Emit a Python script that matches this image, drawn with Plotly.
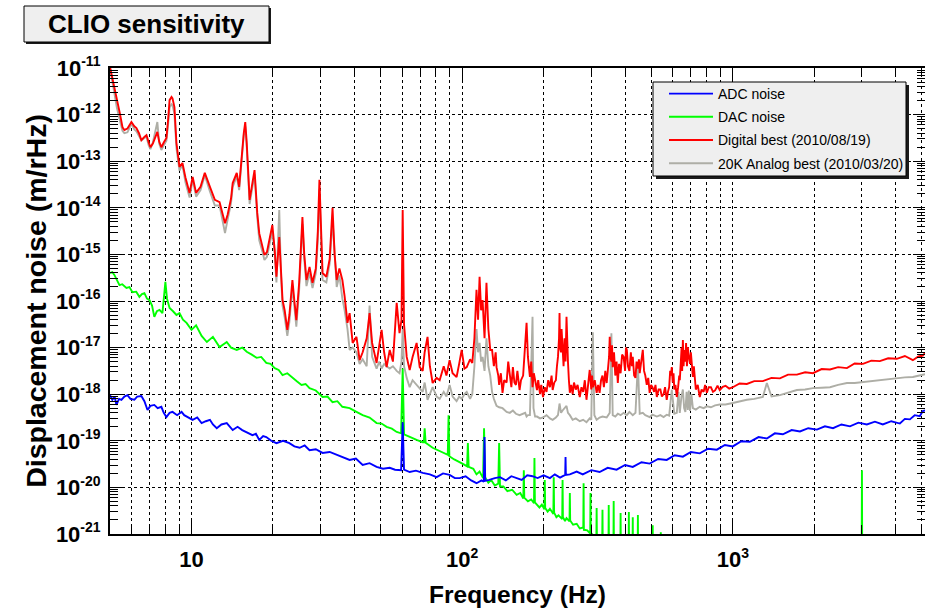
import math
import plotly.graph_objects as go

# ---------------- data (frequency in Hz, log10 of displacement noise in m/rHz) ----------------
adc_points = [
    (5.0, -18.02), (5.1, -18.12), (5.2, -18.05), (5.28, -18.23), (5.4, -18.10), (5.51, -18.12),
    (5.65, -18.05), (5.80, -18.02), (5.95, -18.10), (6.15, -18.12), (6.3, -18.05), (6.53, -18.04),
    (6.7, -18.15), (6.88, -18.34), (7.05, -18.25), (7.29, -18.23), (7.5, -18.30), (7.74, -18.27),
    (7.9, -18.40), (8.08, -18.49), (8.3, -18.40), (8.51, -18.38), (8.85, -18.45), (9.19, -18.38),
    (9.4, -18.45), (9.67, -18.49), (10.1, -18.55), (10.5, -18.50), (10.9, -18.62), (11.3, -18.58),
    (11.7, -18.55), (12.0, -18.65), (12.4, -18.73), (12.9, -18.65), (13.5, -18.62), (14.2, -18.77),
    (14.8, -18.70), (15.4, -18.77), (16.1, -18.82), (16.8, -18.88), (17.3, -18.85), (17.8, -18.98),
    (18.4, -18.90), (18.9, -18.92), (19.7, -19.00), (20.6, -19.05), (21.8, -19.00), (23.0, -19.05),
    (24.0, -19.12), (25.1, -19.15), (26.2, -19.10), (27.3, -19.20), (28.8, -19.18), (30.5, -19.26),
    (32.4, -19.24), (34.4, -19.30), (36.3, -19.35), (38.4, -19.41), (40.5, -19.38), (42.9, -19.52),
    (45.5, -19.48), (48.3, -19.56), (51.0, -19.60), (54.0, -19.58), (56.5, -19.62), (59.5, -19.63),
    (60.3, -18.60), (61.0, -19.62), (64.0, -19.67), (67.5, -19.64), (71.5, -19.69), (76.0, -19.72),
    (80.5, -19.78), (85.0, -19.70), (89.9, -19.73), (94.0, -19.80), (97.9, -19.80), (103, -19.76),
    (108, -19.85), (113, -19.91), (118, -19.85), (120.3, -19.88), (121, -18.92), (121.7, -19.86),
    (126, -19.84), (132, -19.80), (138, -19.78), (145, -19.85), (152, -19.76), (159, -19.80),
    (166, -19.84), (174, -19.74), (182, -19.76), (190, -19.80), (200, -19.74), (211, -19.80),
    (220, -19.72), (230, -19.79), (240.3, -19.73), (241, -19.35), (241.7, -19.73), (250, -19.72),
    (265, -19.66), (279, -19.72), (300, -19.63), (322, -19.67), (345, -19.58), (372, -19.62),
    (400, -19.52), (427, -19.56), (460, -19.46), (493, -19.49), (530, -19.39), (570, -19.41),
    (610, -19.31), (654, -19.34), (700, -19.24), (755, -19.27), (810, -19.17), (873, -19.19),
    (935, -19.09), (1000, -19.12), (1075, -19.01), (1156, -19.02), (1245, -18.92), (1336, -18.95),
    (1430, -18.84), (1531, -18.86), (1650, -18.77), (1771, -18.80), (1900, -18.73), (2045, -18.76),
    (2190, -18.69), (2345, -18.73), (2520, -18.65), (2710, -18.69), (2910, -18.61), (3128, -18.65),
    (3350, -18.59), (3583, -18.65), (3850, -18.58), (4143, -18.63), (4323, -18.53), (4510, -18.54),
    (4700, -18.45), (4909, -18.47), (5036, -18.36), (5130, -18.35),
]

dac_points = [
    (5.0, -15.40), (5.1, -15.38), (5.19, -15.44), (5.3, -15.55), (5.42, -15.66), (5.55, -15.64),
    (5.75, -15.72), (5.9, -15.70), (6.05, -15.81), (6.25, -15.80), (6.42, -15.91), (6.56, -15.85),
    (6.70, -15.83), (6.85, -15.95), (7.0, -15.98), (7.15, -16.10), (7.29, -16.34), (7.45, -16.22),
    (7.62, -16.19), (7.81, -16.26), (7.92, -15.90), (8.01, -15.59), (8.12, -15.95), (8.30, -16.15),
    (8.55, -16.22), (8.80, -16.30), (9.03, -16.26), (9.3, -16.40), (9.59, -16.47), (10.0, -16.62),
    (10.4, -16.52), (10.9, -16.75), (11.4, -16.88), (12.0, -16.77), (12.7, -16.99), (13.5, -16.88),
    (14.0, -17.00), (14.7, -17.05), (15.4, -17.00), (16.0, -17.09), (16.7, -17.15), (17.4, -17.22),
    (18.1, -17.20), (18.9, -17.33), (19.6, -17.35), (20.3, -17.44), (21.0, -17.48), (21.7, -17.59),
    (22.6, -17.55), (23.6, -17.65), (24.5, -17.72), (25.5, -17.80), (26.4, -17.78), (27.3, -17.87),
    (28.8, -17.92), (30.5, -18.06), (31.8, -18.05), (33.2, -18.17), (34.6, -18.15), (36.1, -18.27),
    (38.4, -18.30), (40.7, -18.38), (42.9, -18.45), (45.5, -18.50), (48.3, -18.62), (50.4, -18.63),
    (52.6, -18.70), (55.0, -18.74), (57.3, -18.81), (59.5, -18.84), (60.3, -17.45), (61.0, -18.86),
    (64.0, -18.92), (67.9, -18.98), (71.5, -19.03), (72.2, -19.03), (72.7, -18.73), (73.3, -19.04),
    (77.8, -19.15), (81.0, -19.20), (84.7, -19.26), (88.5, -19.30), (89.1, -18.45), (89.7, -19.33),
    (93.5, -19.40), (97.9, -19.45), (101, -19.50), (104.3, -19.55), (105, -19.05), (105.7, -19.56),
    (110, -19.60), (113, -19.72), (116, -19.66), (119.5, -19.80), (120.5, -18.73), (121.5, -19.78),
    (125, -19.90), (128, -19.84), (132, -19.96), (136, -19.92), (137, -19.05), (138, -19.98),
    (142, -19.98), (147, -20.08), (153, -20.05), (159, -20.16), (164, -20.12), (168.3, -20.24),
    (169, -19.63), (169.7, -20.22), (175, -20.30), (180, -20.26), (184.3, -20.34), (185, -19.37),
    (185.7, -20.32), (193, -20.43), (197, -20.37), (201.3, -20.47), (202, -19.84), (202.7, -20.44),
    (207, -20.52), (211, -20.46), (217.3, -20.57), (218, -19.78), (218.7, -20.54), (223, -20.64),
    (227, -20.60), (234.3, -20.68), (235, -19.84), (235.7, -20.64), (240, -20.72), (243, -20.66),
    (249.3, -20.73), (250, -20.12), (250.7, -20.71), (257, -20.80), (265, -20.78), (272, -20.88),
    (280.3, -20.86), (281, -19.91), (281.7, -20.91), (290, -20.92), (297.3, -20.99), (298, -20.12),
    (298.7, -20.97), (306, -21.05), (313.3, -21.08), (314, -20.44), (314.7, -21.08), (329.3, -21.12),
    (330, -20.48), (330.7, -21.13), (347.3, -21.17), (348, -20.38), (348.7, -21.18), (362.3, -21.20),
    (363, -20.29), (363.7, -21.21), (384.3, -21.25), (385, -20.55), (385.7, -21.26), (412.3, -21.30),
    (413, -20.53), (413.7, -21.31), (426.3, -21.33), (427, -20.64), (427.7, -21.34), (445.3, -21.36),
    (446, -20.59), (446.7, -21.37), (505.3, -21.45), (506, -20.81), (506.7, -21.46), (541.3, -21.50),
    (542, -20.96), (542.7, -21.51), (800, -21.75), (1500, -22.05), (2990, -22.40), (3000, -19.63),
    (3010, -22.40), (5130, -22.60),
]

digital_points = [
    (5.0, -10.98), (5.1, -11.20), (5.3, -11.62), (5.45, -12.00), (5.56, -12.27), (5.65, -12.33),
    (5.8, -12.30), (6.0, -12.16), (6.15, -12.25), (6.26, -12.29), (6.4, -12.40), (6.53, -12.55),
    (6.7, -12.48), (6.82, -12.44), (6.95, -12.60), (7.05, -12.70), (7.2, -12.62), (7.48, -12.37),
    (7.6, -12.58), (7.74, -12.70), (7.9, -12.60), (8.08, -12.50), (8.2, -12.10), (8.30, -11.69),
    (8.44, -11.62), (8.51, -11.65), (8.65, -11.84), (8.80, -12.61), (9.03, -13.12), (9.26, -13.04),
    (9.5, -13.35), (9.84, -13.68), (10.1, -13.34), (10.4, -13.68), (10.8, -13.55), (11.2, -13.25),
    (11.7, -13.55), (12.2, -13.83), (12.7, -13.88), (13.3, -14.33), (13.6, -14.15), (14.0, -13.80),
    (14.2, -13.47), (14.7, -13.25), (15.0, -13.55), (15.3, -12.90), (15.6, -12.40), (15.8, -12.16),
    (16.0, -12.60), (16.4, -13.83), (17.1, -13.19), (17.5, -14.11), (17.8, -14.55), (18.3, -14.84),
    (18.6, -15.01), (19.0, -14.95), (19.4, -14.70), (19.9, -14.37), (20.3, -14.90), (20.6, -15.48),
    (21.1, -14.63), (21.4, -15.30), (21.7, -15.98), (22.1, -16.20), (22.6, -16.62), (23.0, -16.30),
    (23.6, -15.55), (24.0, -16.00), (24.4, -16.41), (25.0, -15.60), (25.7, -14.20), (26.1, -15.00),
    (26.6, -15.55), (27.3, -15.27), (28.0, -15.61), (28.8, -15.30), (29.3, -14.50), (29.7, -13.40),
    (30.1, -14.60), (30.5, -15.40), (31.5, -15.48), (32.4, -15.10), (33.2, -14.00), (33.8, -15.00),
    (34.4, -15.55), (35.2, -15.30), (36.1, -15.55), (36.8, -15.90), (37.7, -16.47), (38.4, -16.26),
    (39.4, -16.90), (40.7, -16.77), (41.8, -17.27), (42.9, -17.10), (44.4, -16.80), (45.5, -16.26),
    (46.5, -16.90), (48.3, -17.33), (49.4, -16.95), (50.4, -16.62), (51.5, -17.10), (52.6, -17.42),
    (54.0, -17.05), (55.5, -17.30), (57.3, -16.04), (58.7, -16.69), (59.7, -16.40), (60.3, -14.05),
    (61.0, -16.50), (62.4, -17.20), (64.0, -17.48), (65.6, -17.20), (67.9, -16.90), (69.7, -17.42),
    (71.5, -17.50), (72.7, -17.10), (74.5, -16.77), (76.0, -17.40), (77.8, -17.76), (80.5, -17.65),
    (82.6, -17.70), (85.5, -17.40), (87.5, -17.60), (89.9, -17.27), (92.2, -17.55), (95.4, -17.63),
    (97.5, -17.35), (99.6, -17.05), (102, -17.45), (104, -17.42), (107, -17.25), (109, -17.33),
    (111, -16.80), (113, -15.76), (114.5, -16.40), (116, -15.48), (117.5, -16.20), (119, -15.98),
    (121, -16.80), (123, -15.61), (125, -16.60), (127, -17.05), (129, -17.05), (131, -17.40),
    (133, -17.10), (134, -17.42), (136, -17.60), (137, -17.80), (139, -17.55), (141, -17.97),
    (143, -17.70), (146, -17.75), (148, -17.30), (150, -17.60), (152, -17.85), (154, -17.42),
    (156, -17.75), (158, -17.80), (160, -17.50), (163, -17.91), (165, -17.70), (168, -17.60),
    (171, -17.00), (173, -16.47), (175, -17.20), (178, -17.63), (180, -17.30), (182, -17.85),
    (184, -17.55), (186, -17.70), (189, -17.91), (191, -17.70), (194, -18.00), (196, -17.80),
    (199, -18.06), (202, -17.85), (205, -17.95), (208, -17.70), (211, -17.85), (214, -17.60),
    (216, -17.91), (219, -17.75), (222, -17.70), (224, -17.40), (226, -17.20), (228, -16.80),
    (229, -16.26), (230, -17.00), (232, -17.10), (233, -16.60), (235, -17.05), (237, -17.40),
    (239, -16.80), (241, -17.30), (243, -16.34), (244, -17.00), (246, -17.30), (248, -17.70),
    (250, -17.97), (253, -17.80), (256, -18.00), (259, -17.75), (263, -17.90), (267, -17.80),
    (272, -18.06), (276, -17.85), (280, -17.95), (284, -17.70), (288, -18.12), (292, -17.80),
    (296, -17.48), (298, -17.70), (300, -17.90), (302, -17.60), (304, -17.85), (309, -17.70),
    (314, -17.97), (318, -17.80), (322, -17.97), (326, -17.70), (330, -17.60), (334, -17.85),
    (338, -17.50), (342, -17.76), (346, -17.40), (349, -17.20), (351, -16.77), (353, -17.20),
    (356, -17.30), (358, -16.95), (360, -17.42), (364, -17.10), (368, -17.60), (372, -17.30),
    (376, -17.76), (380, -17.35), (385, -17.55), (390, -17.15), (395, -17.20), (400, -17.50),
    (403, -17.00), (406, -17.05), (410, -17.40), (415, -17.50), (420, -17.10), (424, -17.40),
    (427, -17.20), (432, -17.60), (437, -17.65), (441, -17.30), (446, -17.45), (450, -17.25),
    (453, -17.55), (458, -17.35), (462, -17.10), (465, -17.05), (470, -17.50), (475, -17.60),
    (481, -17.80), (487, -17.65), (493, -17.97), (499, -17.80), (505, -17.85), (512, -17.95),
    (518, -17.80), (524, -18.06), (532, -17.90), (540, -17.90), (547, -18.05), (555, -18.00),
    (562, -17.85), (570, -18.12), (576, -17.95), (582, -17.85), (587, -17.50), (591, -17.60),
    (595, -17.42), (600, -17.75), (604, -17.55), (608, -17.90), (614, -17.80), (621, -18.06),
    (628, -17.85), (634, -17.60), (637, -17.70), (642, -17.20), (647, -17.00), (650, -17.50),
    (654, -16.84), (658, -17.40), (662, -17.05), (668, -17.30), (672, -16.90), (677, -17.40),
    (682, -16.99), (688, -17.20), (695, -17.35), (700, -17.10), (706, -17.50), (712, -17.63),
    (718, -17.40), (724, -17.70), (730, -17.90), (742, -17.80), (755, -18.06), (767, -17.90),
    (780, -17.95), (790, -17.80), (802, -17.97), (815, -17.85), (830, -17.85), (845, -17.95),
    (860, -17.92), (878, -17.82), (895, -17.91), (918, -17.84), (940, -17.82), (970, -17.88),
    (1000, -17.85), (1060, -17.77), (1127, -17.78), (1200, -17.72), (1291, -17.72), (1390, -17.65),
    (1493, -17.66), (1600, -17.58), (1725, -17.58), (1850, -17.53), (1977, -17.55), (2130, -17.46),
    (2286, -17.47), (2450, -17.42), (2640, -17.44), (2820, -17.34), (3027, -17.35), (3250, -17.28),
    (3494, -17.29), (3750, -17.23), (4036, -17.24), (4323, -17.18), (4627, -17.27), (4850, -17.19),
    (5036, -17.17), (5130, -17.12),
]

analog_points = [
    (5.0, -11.00), (5.1, -11.30), (5.3, -11.85), (5.45, -12.15), (5.56, -12.35), (5.65, -12.40),
    (5.8, -12.38), (6.0, -12.20), (6.15, -12.32), (6.26, -12.36), (6.4, -12.45), (6.53, -12.55),
    (6.7, -12.50), (6.82, -12.48), (6.95, -12.66), (7.05, -12.74), (7.2, -12.60), (7.48, -12.16),
    (7.6, -12.62), (7.74, -12.76), (7.9, -12.66), (8.08, -12.56), (8.2, -12.20), (8.30, -11.85),
    (8.44, -11.78), (8.51, -11.80), (8.65, -11.98), (8.80, -12.72), (9.03, -13.20), (9.26, -13.08),
    (9.5, -13.45), (9.84, -13.78), (10.1, -13.40), (10.4, -13.76), (10.8, -13.62), (11.2, -13.30),
    (11.7, -13.65), (12.2, -13.95), (12.7, -13.95), (13.3, -14.54), (13.6, -14.25), (14.0, -13.90),
    (14.2, -13.55), (14.7, -13.32), (15.0, -13.62), (15.3, -12.95), (15.6, -12.45), (15.8, -12.25),
    (16.0, -12.70), (16.4, -13.92), (17.1, -13.28), (17.5, -14.20), (17.8, -14.70), (18.3, -14.95),
    (18.6, -15.12), (19.0, -15.05), (19.4, -14.82), (19.9, -14.50), (20.3, -15.00), (20.6, -15.60),
    (21.1, -14.05), (21.4, -15.40), (21.7, -16.10), (22.1, -16.35), (22.6, -16.75), (23.0, -16.45),
    (23.6, -15.70), (24.0, -16.10), (24.4, -16.55), (25.0, -15.75), (25.7, -14.35), (26.1, -15.10),
    (26.6, -15.68), (27.3, -15.40), (28.0, -15.72), (28.8, -15.40), (29.3, -14.70), (29.7, -13.60),
    (30.1, -14.80), (30.5, -15.55), (31.5, -15.60), (32.4, -15.20), (33.2, -14.25), (33.8, -15.10),
    (34.4, -15.70), (35.2, -15.45), (36.1, -15.95), (36.8, -16.20), (37.7, -16.60), (38.4, -17.05),
    (39.4, -17.00), (40.7, -17.10), (41.8, -17.35), (42.9, -17.25), (44.4, -17.40), (45.5, -16.10),
    (46.5, -17.20), (48.3, -17.45), (49.4, -17.30), (50.4, -17.45), (51.5, -17.35), (52.6, -17.40),
    (54.0, -17.45), (55.5, -17.40), (57.3, -17.50), (58.7, -17.55), (59.7, -17.30), (60.3, -16.60),
    (61.0, -17.40), (62.4, -17.65), (64.0, -17.85), (65.6, -17.70), (67.9, -17.80), (69.7, -17.90),
    (71.5, -17.95), (72.7, -17.75), (74.5, -18.12), (76.0, -18.00), (77.8, -17.85), (80.5, -18.05),
    (82.6, -18.10), (85.5, -17.95), (87.5, -18.05), (89.9, -17.80), (92.2, -18.05), (95.4, -18.15),
    (97.5, -18.05), (99.6, -18.10), (102, -18.00), (104, -17.95), (107, -18.10), (109, -18.00),
    (111, -17.40), (113, -16.60), (114.5, -17.10), (116, -16.90), (117.5, -17.30), (119, -17.20),
    (121, -17.50), (123, -16.80), (125, -17.40), (127, -17.60), (129, -17.95), (131, -18.10),
    (134, -18.25), (137, -18.28), (141, -18.30), (146, -18.38), (150, -18.40), (154, -18.35),
    (158, -18.42), (163, -18.45), (168, -18.42), (171, -18.40), (173, -18.48), (175, -18.45),
    (178, -18.45), (182, -16.34), (183.5, -18.30), (186, -18.48), (189, -18.48), (194, -18.52),
    (199, -18.50), (205, -18.45), (211, -18.52), (216, -18.55), (222, -18.50), (226, -18.45),
    (229, -18.20), (232, -18.40), (235, -18.35), (239, -18.30), (243, -18.25), (246, -18.40),
    (250, -18.45), (256, -18.55), (263, -18.52), (272, -18.58), (280, -18.55), (288, -18.60),
    (296, -18.52), (300, -18.55), (304, -16.67), (308, -18.45), (314, -18.55), (322, -18.50),
    (330, -18.48), (342, -18.50), (351, -18.40), (356, -16.69), (360, -18.45), (368, -18.48),
    (376, -18.42), (385, -18.45), (395, -18.40), (406, -18.45), (415, -18.38), (427, -18.45),
    (437, -18.40), (446, -17.33), (453, -18.42), (465, -18.40), (475, -18.45), (493, -18.49),
    (505, -18.44), (524, -18.48), (540, -18.45), (555, -18.49), (570, -18.44), (582, -18.46),
    (595, -17.90), (608, -18.42), (621, -18.40), (630, -17.95), (637, -18.40), (646, -18.05),
    (654, -17.90), (661, -18.30), (668, -18.38), (675, -17.95), (682, -18.34), (688, -17.92),
    (695, -18.36), (703, -18.00), (712, -18.30), (730, -18.33), (755, -18.27), (780, -18.30),
    (802, -18.26), (830, -18.28), (860, -18.24), (895, -18.22), (940, -18.22), (1000, -18.19),
    (1060, -18.15), (1127, -18.12), (1200, -18.10), (1291, -18.06), (1336, -17.76), (1390, -18.05),
    (1493, -18.02), (1600, -17.97), (1725, -17.91), (1850, -17.90), (1977, -17.87), (2130, -17.86),
    (2286, -17.85), (2450, -17.80), (2640, -17.76), (2820, -17.76), (3027, -17.74), (3250, -17.72),
    (3494, -17.70), (3750, -17.68), (4036, -17.65), (4323, -17.64), (4627, -17.63), (4850, -17.60),
    (5036, -17.59), (5130, -17.57),
]

series_names = ["ADC noise", "DAC noise", "Digital best (2010/08/19)", "20K Analog best (2010/03/20)"]
series_colors = ["#0000ff", "#00ff00", "#ff0000", "#aeaea6"]

x_range_hz = [5, 5130]
y_range_decades = [-21, -11]
x_major_ticks = [10, 100, 1000]
x_major_labels = ["10", "10<sup><span style='font-size:14px'>2</span></sup>",
                  "10<sup><span style='font-size:14px'>3</span></sup>"]
y_major_exponents = list(range(-21, -10))
y_major_labels = ["10<sup><span style='font-size:14px'>%d</span></sup>" % e for e in y_major_exponents]

# ---------------- layout geometry (page pixels) ----------------
W, H = 925, 608
PLOT_L, PLOT_R, PLOT_T, PLOT_B = 110, 925, 68, 534
ML, MR, MT, MB = PLOT_L, W - PLOT_R, PLOT_T, H - PLOT_B
PW, PH = PLOT_R - PLOT_L, PLOT_B - PLOT_T


def px(xp):
    return (xp - PLOT_L) / PW


def py(yp):
    return (PLOT_B - yp) / PH


fig = go.Figure()
series = [
    (analog_points, 3, 4),
    (digital_points, 2, 3),
    (dac_points, 1, 2),
    (adc_points, 0, 1),
]
for pts, idx, rank in series:
    fig.add_trace(go.Scatter(
        x=[p[0] for p in pts],
        y=[10 ** p[1] for p in pts],
        mode="lines",
        name=series_names[idx],
        legendrank=rank,
        legendgroup="g%d" % idx,
        line=dict(color=series_colors[idx], width=1.9),
        hoverinfo="skip",
    ))

font_fam = "Liberation Sans, Arial, Helvetica, sans-serif"
tickfont = dict(family=font_fam, size=22, color="black", weight="bold")

x_minor = [m * 10 ** d for d in range(0, 4) for m in range(2, 10) if x_range_hz[0] <= m * 10 ** d <= x_range_hz[1]]
y_minor = [m * 10.0 ** d for d in range(-21, -11) for m in range(2, 10)]

fig.update_xaxes(
    type="log",
    range=[math.log10(x_range_hz[0]), math.log10(x_range_hz[1])],
    tickmode="array", tickvals=x_major_ticks, ticktext=x_major_labels,
    ticks="inside", ticklen=15, tickwidth=1, tickcolor="black",
    showgrid=True, gridcolor="black", griddash="dot", gridwidth=1,
    minor=dict(tickmode="array", tickvals=x_minor, ticks="inside", ticklen=9, tickwidth=1,
               tickcolor="black", showgrid=True, gridcolor="black", griddash="dot", gridwidth=1),
    showline=True, linecolor="black", linewidth=2, mirror="ticks",
    tickfont=tickfont, ticklabelstandoff=5, automargin=False,
    title=dict(text="Frequency (Hz)", font=dict(family=font_fam, size=24.5, color="black", weight="bold"), standoff=20),
    zeroline=False,
)
fig.update_yaxes(
    type="log",
    range=y_range_decades,
    tickmode="array", tickvals=[10.0 ** e for e in y_major_exponents], ticktext=y_major_labels,
    ticks="inside", ticklen=12, tickwidth=1, tickcolor="black",
    showgrid=True, gridcolor="black", griddash="dot", gridwidth=1,
    minor=dict(tickmode="array", tickvals=y_minor, ticks="inside", ticklen=8, tickwidth=1,
               tickcolor="black", showgrid=False),
    showline=True, linecolor="black", linewidth=2, mirror="ticks",
    tickfont=tickfont, ticklabelstandoff=3, automargin=False,
    title=dict(text="Displacement noise (m/rHz)", font=dict(family=font_fam, size=28.5, color="black", weight="bold"), standoff=1),
    zeroline=False,
)

shapes = []
# title box with shadow
shapes.append(dict(type="rect", xref="paper", yref="paper", x0=px(26), x1=px(271), y0=py(44), y1=py(8),
                   fillcolor="#1a1a1a", line=dict(width=0), layer="above"))
shapes.append(dict(type="rect", xref="paper", yref="paper", x0=px(24), x1=px(269), y0=py(42), y1=py(6),
                   fillcolor="#efefef", line=dict(color="black", width=1), layer="above"))
# legend box with shadow
shapes.append(dict(type="rect", xref="paper", yref="paper", x0=px(656), x1=px(909), y0=py(179), y1=py(85),
                   fillcolor="#1a1a1a", line=dict(width=0), layer="above"))
shapes.append(dict(type="rect", xref="paper", yref="paper", x0=px(653), x1=px(906), y0=py(176), y1=py(82),
                   fillcolor="#efefef", line=dict(color="black", width=1), layer="above"))

fig.update_layout(
    width=W, height=H,
    margin=dict(l=ML, r=MR, t=MT, b=MB, pad=0, autoexpand=False),
    paper_bgcolor="white", plot_bgcolor="white",
    font=dict(family=font_fam, color="black"),
    shapes=shapes,
    showlegend=True,
    legend=dict(
        x=px(664), y=py(78), xanchor="left", yanchor="top",
        bgcolor="rgba(0,0,0,0)", borderwidth=0, itemwidth=44,
        font=dict(family=font_fam, size=14, color="black"),
        tracegroupgap=2,
    ),
    annotations=[dict(
        text="<b>CLIO sensitivity</b>", xref="paper", yref="paper",
        x=px(146.5), y=py(24), xanchor="center", yanchor="middle",
        showarrow=False, font=dict(family=font_fam, size=26, color="black"),
    )],
)

# remove the browser's default page margin so the figure sits at the window origin
page_fix = ("document.documentElement.style.margin='0';document.documentElement.style.overflow='hidden';"
            "document.body.style.margin='0';document.body.style.overflow='hidden';")
fig.write_html("out.html", post_script=page_fix, config={"displayModeBar": False})
